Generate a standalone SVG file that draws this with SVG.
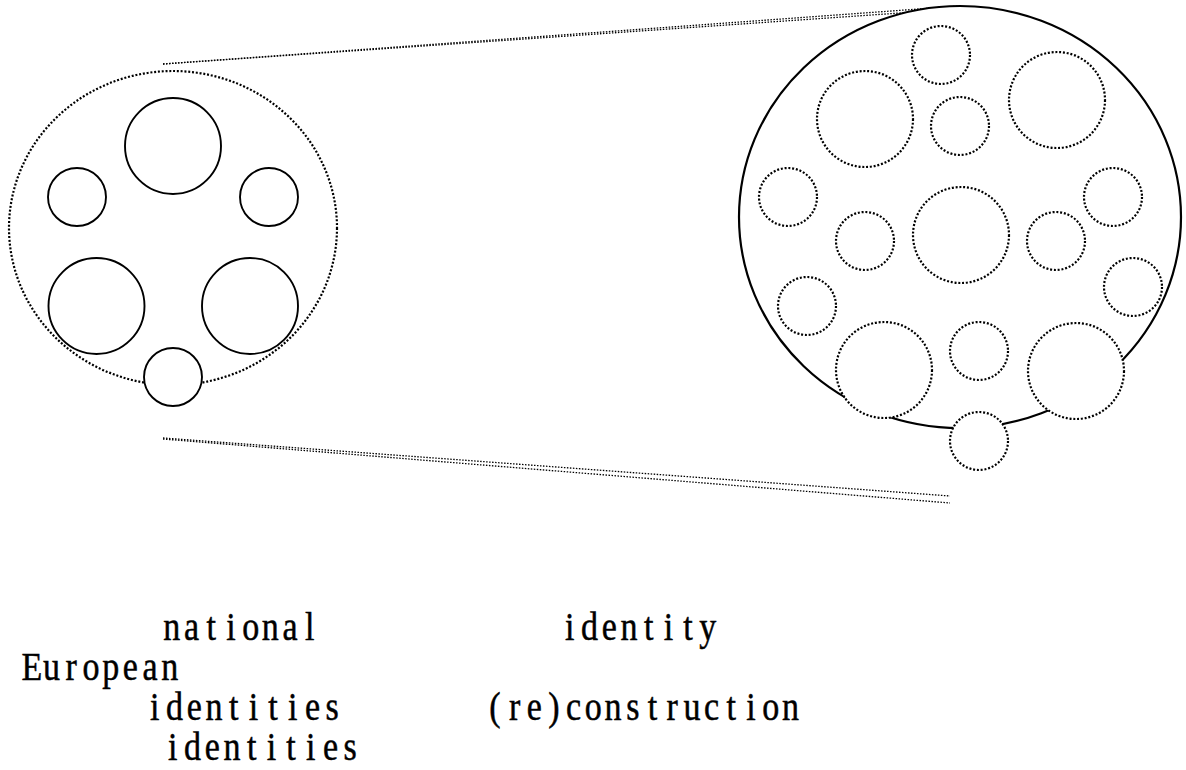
<svg xmlns="http://www.w3.org/2000/svg" width="1186" height="770" viewBox="0 0 1186 770">
  <style>
    .solid { fill: #fff; stroke: #000; stroke-width: 1.9; }
    .dotted { fill: #fff; stroke: #000; stroke-width: 2.2; stroke-dasharray: 2 1.8; }
    .guide { fill: none; stroke: #000; stroke-width: 1.3; stroke-dasharray: 1.5 1.5; }
    /* condensed serif on a fixed grid: each glyph centred in a 19.7px cell */
    .label { font-family: "Liberation Serif", "DejaVu Serif", serif; font-size: 40px; fill: #000; stroke: #000; stroke-width: 0.5; text-anchor: middle; }
  </style>
  <rect width="1186" height="770" fill="#fff"/>

  <!-- projection lines -->
  <g id="connectors">
    <line class="guide" x1="163" y1="64" x2="960" y2="6"/>
    <line class="guide" x1="163" y1="64" x2="958" y2="9"/>
    <line class="guide" x1="163" y1="438" x2="950" y2="496"/>
    <line class="guide" x1="163" y1="439" x2="950" y2="503"/>
  </g>

  <!-- left: national identities inside a dotted European boundary -->
  <g id="national-group">
    <ellipse class="dotted" cx="173" cy="228" rx="164" ry="157" fill="none"/>
    <circle id="n-top" class="solid" cx="173" cy="146" r="48"/>
    <circle id="n-left" class="solid" cx="77" cy="197" r="29"/>
    <circle id="n-right" class="solid" cx="269" cy="197" r="29"/>
    <circle id="n-bl" class="solid" cx="96.5" cy="306" r="48"/>
    <circle id="n-br" class="solid" cx="250" cy="306" r="48"/>
    <circle id="n-bottom" class="solid" cx="173" cy="377" r="29"/>
  </g>

  <!-- right: enlarged identity with dotted sub-identities -->
  <g id="identity-group">
    <ellipse class="solid" cx="960" cy="217" rx="221" ry="211" style="stroke-width:2.2"/>
    <circle class="dotted" cx="941" cy="55" r="29"/>
    <circle class="dotted" cx="865" cy="119" r="48"/>
    <circle class="dotted" cx="960" cy="126" r="29"/>
    <circle class="dotted" cx="1057" cy="100" r="48"/>
    <circle class="dotted" cx="788" cy="197" r="29"/>
    <circle class="dotted" cx="1113" cy="197" r="29"/>
    <circle class="dotted" cx="865" cy="241" r="29"/>
    <circle class="dotted" cx="961" cy="235" r="48"/>
    <circle class="dotted" cx="1056" cy="241" r="29"/>
    <circle class="dotted" cx="807" cy="306" r="29"/>
    <circle class="dotted" cx="1133" cy="287" r="29"/>
    <circle class="dotted" cx="884" cy="370" r="48"/>
    <circle class="dotted" cx="979" cy="351" r="29"/>
    <circle class="dotted" cx="1076" cy="371" r="48"/>
    <circle class="dotted" cx="979" cy="441" r="29"/>
  </g>

  <!-- labels: each line is translated to its start, then condensed horizontally -->
  <g id="labels">
    <text class="label" transform="translate(162 640) scale(0.85 1)" x="11.6 34.8 57.9 81.1 104.3 127.5 150.7 173.9" y="0">national</text>
    <text class="label" transform="translate(560 640) scale(0.85 1)" x="11.6 34.8 57.9 81.1 104.3 127.5 150.7 173.9" y="0">identity</text>
    <text class="label" transform="translate(22 680) scale(0.85 1)" x="11.6 34.8 57.9 81.1 104.3 127.5 150.7 173.9" y="0">European</text>
    <text class="label" transform="translate(145 720) scale(0.85 1)" x="11.6 34.8 57.9 81.1 104.3 127.5 150.7 173.9 197.0 220.2" y="0">identities</text>
    <text class="label" transform="translate(485 720) scale(0.85 1)" x="11.6 34.8 57.9 81.1 104.3 127.5 150.7 173.9 197.0 220.2 243.4 266.6 289.8 313.0 336.1 359.3" y="0">(re)construction</text>
    <text class="label" transform="translate(163 760) scale(0.85 1)" x="11.6 34.8 57.9 81.1 104.3 127.5 150.7 173.9 197.0 220.2" y="0">identities</text>
  </g>
</svg>
